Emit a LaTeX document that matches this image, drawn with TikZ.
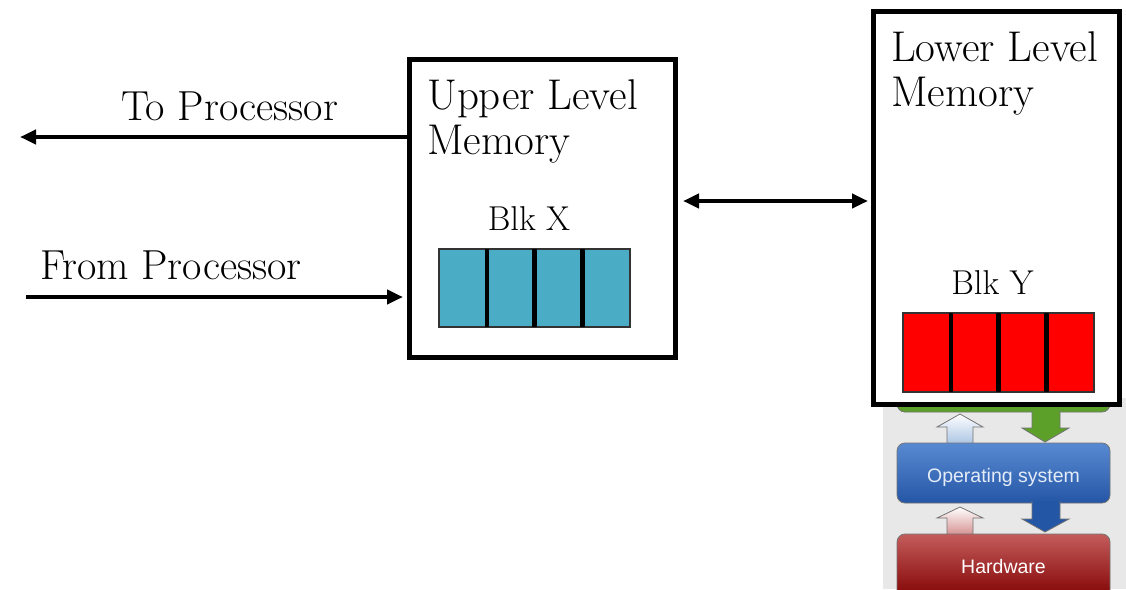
\documentclass[tikz,border=0pt]{standalone}
\usepackage{fontspec}
\newfontfamily\osfont{Liberation Sans}
\usetikzlibrary{arrows.meta}
\definecolor{blkteal}{RGB}{75,172,198}
\definecolor{blkred}{RGB}{255,0,0}
\definecolor{panelgray}{RGB}{232,232,232}
\definecolor{appgreen}{RGB}{92,160,42}
\definecolor{ostop}{RGB}{88,138,210}
\definecolor{osbot}{RGB}{36,86,166}
\definecolor{hwtop}{RGB}{196,92,92}
\definecolor{hwbot}{RGB}{128,0,0}
\definecolor{uparrowbot}{RGB}{168,194,226}
\definecolor{pinkbot}{RGB}{212,140,140}
\definecolor{ostext}{RGB}{228,236,248}
\begin{document}
\begin{tikzpicture}[x=1pt,y=-1pt,
  bigtri/.tip={Triangle[length=16pt,width=14pt]},
  membox/.style={draw=black, line width=4.5pt, fill=white, inner sep=0pt, outer sep=0pt},
  title/.style={font=\fontsize{43}{45}\selectfont, align=left, inner sep=0pt, anchor=north west},
  lab/.style={font=\fontsize{42}{46}\selectfont, inner sep=0pt, anchor=base west},
  blklab/.style={font=\fontsize{34.5}{40}\selectfont, inner sep=0pt, anchor=base},
  cell/.style={draw=black!80, line width=1.2pt, minimum width=47.75pt, inner sep=0pt, outer sep=0pt},
  divider/.style={line width=4.5pt},
  arr/.style={line width=4pt, -bigtri},
  osshape/.style={draw=black!55, line width=0.8pt},
  osbox/.style={osshape, rounded corners=8pt, minimum width=213pt, inner sep=0pt,
    font=\osfont\fontsize{19.5}{22}\selectfont, text=ostext, text depth=0pt}]
\useasboundingbox (0,0) rectangle (1126,589);

% ---- operating-system layer graphic ----
\fill[panelgray] (883,398) rectangle (1126,589);
\draw[osshape, fill=appgreen, rounded corners=8pt] (897,360) rectangle (1110,412);
\draw[osshape, fill=appgreen] (1032,410) -- (1032,428) -- (1022,428) -- (1045,442)
  -- (1069,428) -- (1060,428) -- (1060,410);
\draw[osshape, top color=white, bottom color=uparrowbot] (947,445) -- (947,427) -- (937,427)
  -- (960,414) -- (983,427) -- (973,427) -- (973,445);
\node[osbox, minimum height=60pt, text height=18pt, top color=ostop, bottom color=osbot] (os) at (1003.5,473) {Operating system};
\draw[osshape, fill=osbot] (1032,501) -- (1032,519) -- (1022,519) -- (1045,532)
  -- (1069,519) -- (1060,519) -- (1060,501);
\draw[osshape, top color=white, bottom color=pinkbot] (947,536) -- (947,518) -- (937,518)
  -- (960,507) -- (983,518) -- (973,518) -- (973,536);
\node[osbox, minimum height=66pt, text height=12pt, top color=hwtop, bottom color=hwbot, text=white] (hw) at (1003.5,567) {Hardware};

% ---- memory boxes ----
\node[membox, minimum width=266pt, minimum height=298pt] (upper) at (542.5,208.5) {};
\node[membox, minimum width=246pt, minimum height=393pt] (lower) at (996.5,208) {};

\node[title] (uptitle) at (427,79) {Upper Level\\Memory};
\node[title] (lowtitle) at (891,31) {Lower Level\\Memory};

\node[blklab] (blkx) at (529,230) {Blk X};
\node[blklab] (blky) at (992.5,294) {Blk Y};

% block X: four cells
\foreach \i/\cx in {1/462.875,2/510.625,3/558.375,4/606.125}
  \node[cell, minimum height=78pt, fill=blkteal] (x\i) at (\cx,288) {};
\foreach \i in {1,2,3}
  \draw[divider] (x\i.north east) -- (x\i.south east);

% block Y: four cells
\foreach \i/\cx in {1/926.875,2/974.625,3/1022.375,4/1070.125}
  \node[cell, minimum height=79pt, fill=blkred] (y\i) at (\cx,352.5) {};
\foreach \i in {1,2,3}
  \draw[divider] (y\i.north east) -- (y\i.south east);

% ---- processor connections ----
\coordinate (toP) at (20,137);
\coordinate (fromP) at (26,297);
\coordinate (linkY) at (0,201);
\draw[arr] (upper.west |- toP) -- (toP);
\draw[arr, shorten >=6.5pt] (fromP) -- (fromP -| upper.west);
\draw[arr, bigtri-bigtri, shorten <=7.5pt, shorten >=5.5pt] (upper.east |- linkY) -- (lower.west |- linkY);

\node[lab] (tolab) at (121,120) {To Processor};
\node[lab] (fromlab) at (40,279) {From Processor};
\end{tikzpicture}
\end{document}
